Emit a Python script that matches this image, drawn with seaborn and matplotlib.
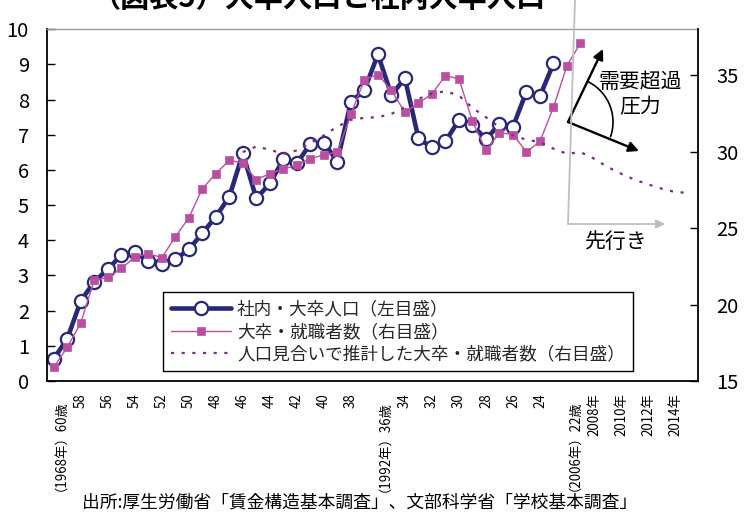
import numpy as np
import pandas as pd
import matplotlib
matplotlib.use("Agg")
import matplotlib.pyplot as plt
import seaborn as sns
from matplotlib.lines import Line2D
from matplotlib.patches import FancyArrowPatch

# ---------------- data ----------------
categories = [str(y) for y in range(1968, 2016)]          # 48 category slots
tick_positions = list(range(0, 48, 2))
tick_labels = ["（1968年）60歳", "58", "56", "54", "52", "50", "48", "46", "44",
               "42", "40", "38", "（1992年）36歳", "34", "32", "30", "28", "26",
               "24", "（2006年）22歳", "2008年", "2010年", "2012年", "2014年"]

# 社内・大卒人口（左目盛）  slots 0..37
inhouse = [0.63, 1.20, 2.28, 2.82, 3.18, 3.58, 3.68, 3.41, 3.32, 3.46,
           3.74, 4.20, 4.67, 5.24, 6.47, 5.19, 5.62, 6.30, 6.19, 6.74,
           6.78, 6.24, 7.94, 8.27, 9.29, 8.13, 8.61, 6.90, 6.64, 6.81,
           7.42, 7.28, 6.87, 7.31, 7.23, 8.23, 8.10, 9.03]
# 大卒・就職者数（右目盛）  slots 0..39
hires = [15.89, 17.2, 18.8, 21.6, 21.77, 22.36, 23.1, 23.33, 23.07, 24.42,
         25.68, 27.58, 28.56, 29.43, 29.25, 28.17, 28.56, 28.88, 29.1, 29.54,
         29.80, 29.97, 32.43, 34.71, 35.04, 34.0, 32.58, 33.17, 33.78, 34.97,
         34.76, 31.99, 30.08, 31.23, 31.12, 29.97, 30.67, 32.9, 35.63, 37.1]
# 人口見合いで推計した大卒・就職者数（右目盛）  slots 14..47
est_start = 14
estimated = [29.97, 30.34, 30.12, 29.86, 30.08, 30.56, 31.06, 31.64, 32.08, 32.21,
             32.25, 32.47, 32.9, 33.45, 33.8, 33.95, 33.67, 32.86, 32.25, 31.6,
             31.06, 30.78, 30.62, 30.19, 29.86, 29.97, 29.54, 29.0, 28.56, 28.17,
             27.86, 27.58, 27.36, 27.3]

series_labels = ["社内・大卒人口（左目盛）", "大卒・就職者数（右目盛）",
                 "人口見合いで推計した大卒・就職者数（右目盛）"]

df_in = pd.DataFrame({"slot": np.arange(len(inhouse)), "value": inhouse})
df_hi = pd.DataFrame({"slot": np.arange(len(hires)), "value": hires})
df_es = pd.DataFrame({"slot": np.arange(est_start, est_start + len(estimated)), "value": estimated})

# ---------------- style ----------------
sns.set_theme(style="white")
plt.rcParams["font.family"] = ["Noto Sans CJK JP", "DejaVu Sans"]

NAVY = "#282878"
PINK = "#BA4FA2"
PURPLE = "#7A2A88"
GRAY = "#BFBFBF"

W, H = 755, 512
fig = plt.figure(figsize=(W / 100, H / 100), dpi=100)
L, R, T, B = 47, 698, 29.3, 381
ax = fig.add_axes([L / W, 1 - B / H, (R - L) / W, (B - T) / H])
ax2 = ax.twinx()

sns.lineplot(data=df_in, x="slot", y="value", ax=ax, color=NAVY, linewidth=3.3,
             marker="o", markersize=9.5, markerfacecolor="white",
             markeredgecolor=NAVY, markeredgewidth=1.6, legend=False)
sns.lineplot(data=df_hi, x="slot", y="value", ax=ax2, color=PINK, linewidth=1.0,
             marker="s", markersize=6.3, markerfacecolor=PINK,
             markeredgecolor=PINK, markeredgewidth=0.5, legend=False)
sns.lineplot(data=df_es, x="slot", y="value", ax=ax2, color=PURPLE, linewidth=1.6,
             linestyle=(0, (1.4, 3.4)), legend=False)

ax.set_xlim(-0.5, 47.7)
ax.set_ylim(0, 10)
ax.set_yticks(range(0, 11))
ax2.set_ylim(15, 38)
ax2.set_yticks([15, 20, 25, 30, 35])
ax.set_xticks(tick_positions)
ax.set_xticklabels(tick_labels, rotation=90, fontsize=9.6)
for a in (ax, ax2):
    a.set_xlabel("")
    a.set_ylabel("")

ax.tick_params(axis="x", bottom=False, length=0, pad=9, colors="black")
ax.tick_params(axis="y", left=True, right=False, direction="in", length=6,
               width=1, labelsize=14.5, pad=13, colors="black")
ax2.tick_params(axis="y", right=True, left=False, direction="in", length=6,
                width=1, labelsize=14.5, pad=13, colors="black")

for s in ("left", "bottom"):
    ax.spines[s].set_color("black")
    ax.spines[s].set_linewidth(1.3)
ax.spines["top"].set_color("#9A9A9A")
ax.spines["top"].set_linewidth(1.0)
ax.spines["right"].set_visible(False)
for s in ("left", "bottom", "top"):
    ax2.spines[s].set_visible(False)
ax2.spines["right"].set_color("black")
ax2.spines["right"].set_linewidth(1.3)

handles = [ax.lines[0], ax2.lines[0], ax2.lines[1]]
leg = ax2.legend(handles, series_labels, loc="lower left",
                 bbox_to_anchor=(0.178, 0.028), borderaxespad=0, fontsize=12.7,
                 frameon=True, fancybox=False, edgecolor="black", framealpha=1,
                 handlelength=3.4, handletextpad=0.35, labelspacing=0.25,
                 borderpad=0.45)
leg.get_frame().set_linewidth(1.0)


def fp(x, y):
    return (x / W, 1 - y / H)


# gray "先行き" marker
(x0, y0), (x1, y1) = fp(575, 0), fp(568, 224)
fig.add_artist(Line2D([x0, x1], [y0, y1], transform=fig.transFigure, color=GRAY, lw=1.3))
fig.add_artist(FancyArrowPatch(fp(568, 224), fp(665, 224), transform=fig.transFigure,
                               arrowstyle="-|>", mutation_scale=13, color=GRAY, lw=1.3,
                               shrinkA=0, shrinkB=0))
fig.text(*fp(615, 242), "先行き", ha="center", va="center", fontsize=15, color="black")

# black "需要超過圧力" arrows
for end in [(603, 49), (639, 151)]:
    fig.add_artist(FancyArrowPatch(fp(568, 122), fp(*end), transform=fig.transFigure,
                                   arrowstyle="-|>", mutation_scale=15, color="black",
                                   lw=1.7, shrinkA=0, shrinkB=0))
t = np.radians(np.linspace(-19, 63, 60))
arc_x = 568 + 45 * np.cos(t)
arc_y = 122 - 45 * np.sin(t)
fig.add_artist(Line2D(arc_x / W, 1 - arc_y / H, transform=fig.transFigure, color="black", lw=1.2))
fig.text(*fp(640, 82), "需要超過", ha="center", va="center", fontsize=15, color="black")
fig.text(*fp(640, 107), "圧力", ha="center", va="center", fontsize=15, color="black")

# title (cut off at the top like the original) and source
fig.text(319 / W, 1 - 7 / H, "（図表5）大卒人口と社内大卒人口", ha="center", va="baseline",
         fontsize=21, fontweight="bold", color="black")
fig.text(*fp(360, 502), "出所:厚生労働省「賃金構造基本調査」、文部科学省「学校基本調査」",
         ha="center", va="center", fontsize=12.8, color="black")

fig.savefig("out.png", dpi=100)
